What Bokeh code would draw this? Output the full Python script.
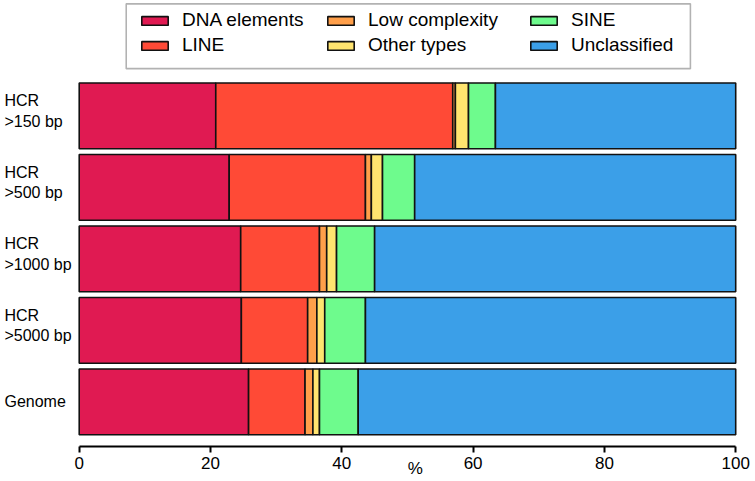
from bokeh.plotting import figure
from bokeh.models import (ColumnDataSource, Range1d, FixedTicker, Legend, LegendItem,
                          BoxAnnotation)
from bokeh.core.properties import value
from bokeh.embed import file_html
from bokeh.resources import INLINE

# ---- data (percent) ----
categories = ["Genome", "HCR\n>5000 bp", "HCR\n>1000 bp", "HCR\n>500 bp", "HCR\n>150 bp"]
dna_elements = [25.8, 24.7, 24.6, 22.85, 20.8]
line_vals = [8.6, 10.1, 12.0, 20.75, 36.1]
low_complexity = [1.2, 1.4, 1.1, 0.9, 0.4]
other_types = [1.0, 1.2, 1.5, 1.7, 2.0]
sine_vals = [5.9, 6.2, 5.8, 4.9, 4.1]
unclassified = [57.5, 56.4, 55.0, 48.9, 36.6]

series_names = ["DNA elements", "LINE", "Low complexity", "Other types", "SINE", "Unclassified"]
series_keys = ["dna", "line", "lowc", "other", "sine", "uncl"]
colors = ["#E01A52", "#FF4A36", "#FF9F4A", "#FFE46F", "#6EFB8D", "#3B9FE8"]
x_ticks = [0, 20, 40, 60, 80, 100]
x_label = "%"

ypos = [i + 1 for i in range(len(categories))]
label_offsets = [-5 if "\n" in c else 0 for c in categories]
src = ColumnDataSource(dict(y=ypos, cat=categories, yoff=label_offsets,
                            dna=dna_elements, line=line_vals,
                            lowc=low_complexity, other=other_types, sine=sine_vals,
                            uncl=unclassified))

FONT = "Liberation Sans"
x0 = -11.99
p = figure(width=750, height=480, output_backend="svg", toolbar_location=None,
           x_range=Range1d(x0, 100.73), y_range=Range1d(0.375, 6.613),
           min_border_left=0, min_border_right=10, min_border_top=0, min_border_bottom=34)
p.outline_line_color = None
p.grid.visible = False
p.yaxis.visible = False
p.background_fill_color = "white"

rends = p.hbar_stack(series_keys, y="y", height=0.92, source=src, color=colors,
                     line_color="#111111", line_width=1.6)

# x axis
ax = p.xaxis[0]
ax.ticker = FixedTicker(ticks=x_ticks)
ax.bounds = (0, 100)
ax.axis_line_width = 2
ax.axis_line_color = "black"
ax.major_tick_line_width = 2
ax.major_tick_out = 6
ax.major_tick_in = 0
ax.minor_tick_line_color = None
ax.major_label_text_font = FONT
ax.major_label_text_font_size = "17px"
ax.major_label_text_color = "black"
ax.major_label_standoff = 4
# label sits right of the frame centre: pad it on the left with no-break spaces
ax.axis_label = "\u00a0" * 19 + x_label
ax.axis_label_text_font = FONT
ax.axis_label_text_font_style = "normal"
ax.axis_label_text_font_size = "17px"
ax.axis_label_text_color = "black"
ax.axis_label_standoff = -13

# category labels
p.text(x=x0 + 0.6, y="y", text="cat", y_offset="yoff", source=src, text_font=value(FONT),
       text_font_size="16px", text_align="left", text_baseline="middle",
       text_line_height=1.2, text_color="black")

# legend box
p.add_layout(BoxAnnotation(left=7.16, right=93.1, top=6.566, bottom=5.66,
                           fill_color="white", fill_alpha=1.0,
                           line_color="black", line_width=1.6, level="overlay"))

col_x = [138, 324, 527]
for c, idx in enumerate([(0, 1), (2, 3), (4, 5)]):
    items = [LegendItem(label=series_names[i], renderers=[rends[i]]) for i in idx]
    lg = Legend(items=items, location=(col_x[c], 390), orientation="vertical",
                glyph_width=33, glyph_height=11, label_height=20, spacing=3,
                padding=0, margin=0, label_standoff=11,
                label_text_font=FONT, label_text_font_size="19px",
                label_text_color="black",
                border_line_color=None, background_fill_alpha=0.0,
                click_policy="none")
    p.add_layout(lg)

open("out.html", "w").write(file_html(p, INLINE))
